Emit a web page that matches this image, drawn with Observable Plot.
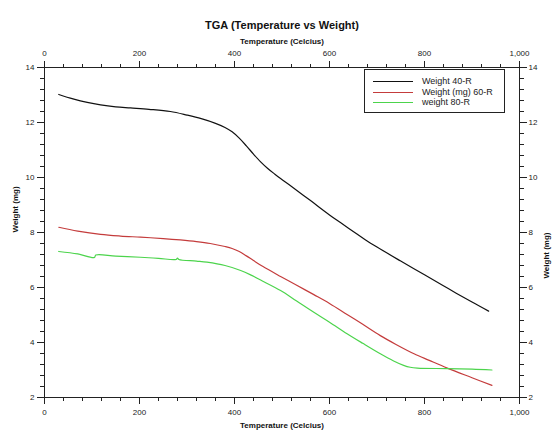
<!DOCTYPE html>
<html>
<head>
<meta charset="utf-8">
<script src="https://cdn.jsdelivr.net/npm/d3@7"></script>
<script src="https://cdn.jsdelivr.net/npm/@observablehq/plot@0.6"></script>
<style>
  body { margin: 0; background: #fff; font-family: "Liberation Sans", Arial, sans-serif; }
  #wrap { position: relative; width: 553px; height: 432px; }
  #legend { position: absolute; left: 364px; top: 69px; width: 141px; height: 44px; border: 1px solid #222;
            box-sizing: border-box; background: #fff; font-size: 9px; color: #222; }
  .row { position: absolute; left: 0; width: 100%; height: 10px; }
  .sw { position: absolute; left: 8px; width: 40px; top: 5px; height: 0; border-top: 1.5px solid #000; }
  .lb { position: absolute; left: 57px; top: 0; line-height: 10px; white-space: nowrap; }
</style>
</head>
<body>
<div id="wrap"><div id="legend"></div></div>
<script>
// ---- data ----
const chartTitle = "TGA (Temperature vs Weight)";
const xLabel = "Temperature (Celcius)";
const yLabel = "Weight (mg)";
const seriesNames = ["Weight 40-R", "Weight (mg) 60-R", "weight 80-R"];
const seriesColors = ["#111111", "#c43c3c", "#4cd44c"];

const xMajorTicks = [0, 200, 400, 600, 800, 1000];
const xMinorTicks = [0,40,80,120,160,200,240,280,320,360,400,440,480,520,560,600,640,680,720,760,800,840,880,920,960,1000];
const yMajorTicks = [2, 4, 6, 8, 10, 12, 14];
const yMinorTicks = [2,2.4,2.8,3.2,3.6,4,4.4,4.8,5.2,5.6,6,6.4,6.8,7.2,7.6,8,8.4,8.8,9.2,9.6,10,10.4,10.8,11.2,11.6,12,12.4,12.8,13.2,13.6,14];

const temp40 = [30,60,90,118,150,181,220,265,300,330,360,380,395,410,425,440,455,470,485,497,518,560,600,623,650,676,700,749,800,850,900,935];
const weight40 = [13.02,12.86,12.73,12.64,12.57,12.53,12.48,12.40,12.27,12.14,11.97,11.82,11.66,11.43,11.15,10.85,10.57,10.33,10.12,9.96,9.70,9.16,8.64,8.36,8.04,7.73,7.47,6.97,6.46,5.96,5.47,5.14];

const temp60 = [30,70,118,160,202,250,286,320,349,380,395,410,425,440,460,497,530,567,600,637,670,707,740,778,810,848,900,942];
const weight60 = [8.19,8.05,7.93,7.87,7.83,7.78,7.73,7.67,7.60,7.49,7.42,7.31,7.15,6.98,6.76,6.40,6.09,5.74,5.42,5.02,4.66,4.25,3.93,3.59,3.35,3.07,2.72,2.44];

const temp80 = [30,70,105,108,150,202,240,277,280,283,320,342,380,413,435,455,497,530,567,600,637,670,707,735,756,770,785,848,900,942];
const weight80 = [7.31,7.22,7.09,7.18,7.14,7.10,7.06,7.02,7.07,7.02,6.96,6.92,6.80,6.62,6.45,6.27,5.89,5.52,5.10,4.74,4.32,3.97,3.59,3.33,3.17,3.10,3.07,3.05,3.03,3.00];

// ---- build table ----
const rows = [];
[[temp40, weight40], [temp60, weight60], [temp80, weight80]].forEach(([ts, ws], i) => {
  ts.forEach((t, j) => rows.push({series: seriesNames[i], T: t, W: ws[j]}));
});

const blank = () => "";
const chart = Plot.plot({
  width: 553, height: 432,
  marginLeft: 44, marginRight: 34, marginTop: 67, marginBottom: 35,
  style: {fontFamily: "'Liberation Sans', Arial, sans-serif", fontSize: "8px", color: "#222", background: "#fff"},
  x: {domain: [0, 1000]},
  y: {domain: [2, 14]},
  color: {domain: seriesNames, range: seriesColors},
  marks: [
    Plot.frame({stroke: "#222"}),
    Plot.axisX({anchor: "bottom", ticks: xMinorTicks, tickSize: 4, tickFormat: blank, label: null}),
    Plot.axisX({anchor: "bottom", ticks: xMajorTicks, tickSize: 7, tickPadding: 5, tickFormat: d3.format(","), label: null}),
    Plot.axisX({anchor: "top", ticks: xMinorTicks, tickSize: 4, tickFormat: blank, label: null}),
    Plot.axisX({anchor: "top", ticks: xMajorTicks, tickSize: 7, tickPadding: 5, tickFormat: d3.format(","), label: null}),
    Plot.axisY({anchor: "left", ticks: yMinorTicks, tickSize: 4, tickFormat: blank, label: null}),
    Plot.axisY({anchor: "left", ticks: yMajorTicks, tickSize: 7, tickPadding: 3, tickFormat: d3.format("d"), label: null}),
    Plot.axisY({anchor: "right", ticks: yMinorTicks, tickSize: 4, tickFormat: blank, label: null}),
    Plot.axisY({anchor: "right", ticks: yMajorTicks, tickSize: 7, tickPadding: 2, tickFormat: d3.format("d"), label: null}),
    Plot.line(rows, {x: "T", y: "W", z: "series", stroke: "series", curve: "catmull-rom", strokeWidth: 1.2}),
    Plot.text([chartTitle], {frameAnchor: "top", dy: -46, fontWeight: "bold", fontSize: 11, fill: "#111"}),
    Plot.text([xLabel], {frameAnchor: "top", dy: -29, fontWeight: "bold", fontSize: 8, fill: "#111"}),
    Plot.text([xLabel], {frameAnchor: "bottom", dy: 30, fontWeight: "bold", fontSize: 8, fill: "#111"}),
    Plot.text([yLabel], {frameAnchor: "left", dx: -29, rotate: -90, fontWeight: "bold", fontSize: 8, fill: "#111"}),
    Plot.text([yLabel], {frameAnchor: "right", dx: 27, rotate: -90, fontWeight: "bold", fontSize: 8, fill: "#111"})
  ]
});
const wrap = document.getElementById("wrap");
wrap.insertBefore(chart, wrap.firstChild);

// ---- legend ----
const legend = document.getElementById("legend");
const rowTops = [6, 17, 27];
seriesNames.forEach((name, i) => {
  const r = document.createElement("div");
  r.className = "row";
  r.style.top = rowTops[i] + "px";
  const sw = document.createElement("div");
  sw.className = "sw";
  sw.style.borderTopColor = seriesColors[i];
  const lb = document.createElement("div");
  lb.className = "lb";
  lb.textContent = name;
  r.appendChild(sw); r.appendChild(lb);
  legend.appendChild(r);
});
</script>
</body>
</html>
